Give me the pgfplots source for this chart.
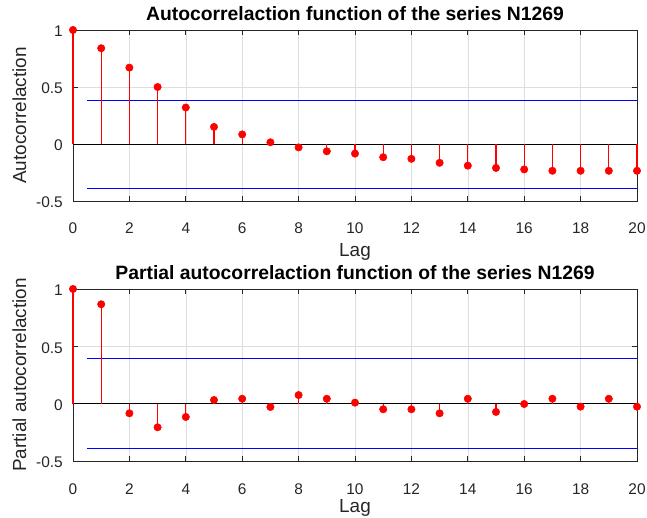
\documentclass[border=0pt]{standalone}
\usepackage{fontspec}
\setmainfont{Liberation Sans}
\usepackage{pgfplots}
\pgfplotsset{compat=1.18}
\newcommand\tickfont{\fontsize{15.5}{18}\selectfont}
\newcommand\labfont{\fontsize{19}{22}\selectfont}
\newcommand\titfont{\fontsize{19.4}{22}\selectfont\bfseries}
\definecolor{axgray}{gray}{0.15}
\definecolor{gridgray}{gray}{0.87}
\pgfplotsset{
  acf/.style={
    scale only axis, width=564bp,
    xmin=0, xmax=20, ymin=-0.5, ymax=1,
    xtick={0,2,4,6,8,10,12,14,16,18,20},
    xticklabels={0,2,4,6,8,10,12,14,16,18,20},
    ytick={-0.5,0,0.5,1}, yticklabels={-0.5,0,0.5,1},
    tick align=inside, major tick length=5bp,
    grid=major, grid style={gridgray, line width=0.6bp},
    axis line style={draw=none},
    tick style={axgray, line width=0.7bp},
    xticklabel style={font=\tickfont, text=axgray, anchor=base, yshift=-33bp, inner sep=0},
    yticklabel style={font=\tickfont, text=axgray, anchor=east, inner sep=0, xshift=-10bp, yshift=-1.5bp},
    xlabel={Lag},
    ylabel style={font=\labfont, text=axgray, at={(axis description cs:-0.0833,0.5)}, anchor=base, inner sep=0},
    title style={font=\titfont, at={(axis description cs:0.5,1)}, anchor=base, yshift=4bp, inner sep=0},
    clip=false,
  },
  frame/.style={axgray, line width=0.7bp},
  stem/.style={draw=red, color=red, line width=1.2bp, ycomb, mark=*, mark size=3.7bp, mark options={fill=red, draw=red, line width=0.5bp}},
  conf/.style={blue, line width=0.8bp},
  zero/.style={black, line width=0.9bp},
}
\begin{document}
\begin{tikzpicture}
\useasboundingbox (0,0) rectangle (647bp,518bp);
\begin{axis}[acf, at={(73bp,317bp)}, anchor=south west, height=171bp,
  title={Autocorrelaction function of the series N1269},
  ylabel={Autocorrelaction},
  xlabel style={font=\labfont, text=axgray, at={(axis description cs:0.5,-0.3099)}, anchor=base, inner sep=0, yshift=-3bp}]
\addplot[frame] coordinates {(0,-0.5) (20,-0.5) (20,1) (0,1) (0,-0.5)};
\addplot[zero] coordinates {(0,0) (20,0)};
\addplot[conf] coordinates {(0.5,0.385) (20,0.385)};
\addplot[conf] coordinates {(0.5,-0.386) (20,-0.386)};
\addplot[stem] coordinates {
(0,1) (1,0.84) (2,0.67) (3,0.50) (4,0.32) (5,0.15) (6,0.084) (7,0.015)
(8,-0.03) (9,-0.064) (10,-0.084) (11,-0.116) (12,-0.13) (13,-0.165)
(14,-0.19) (15,-0.21) (16,-0.223) (17,-0.235) (18,-0.235) (19,-0.235) (20,-0.235)};
\end{axis}
\begin{axis}[acf, at={(73bp,57bp)}, anchor=south west, height=172bp,
  title={Partial autocorrelaction function of the series N1269},
  ylabel={Partial autocorrelaction},
  xlabel style={font=\labfont, text=axgray, at={(axis description cs:0.5,-0.3081)}, anchor=base, inner sep=0, yshift=1bp}]
\addplot[frame] coordinates {(0,-0.5) (20,-0.5) (20,1) (0,1) (0,-0.5)};
\addplot[zero] coordinates {(0,0) (20,0)};
\addplot[conf] coordinates {(0.5,0.391) (20,0.391)};
\addplot[conf] coordinates {(0.5,-0.388) (20,-0.388)};
\addplot[stem] coordinates {
(0,1) (1,0.867) (2,-0.084) (3,-0.206) (4,-0.116) (5,0.032) (6,0.043) (7,-0.029)
(8,0.075) (9,0.043) (10,0.009) (11,-0.049) (12,-0.049) (13,-0.084)
(14,0.043) (15,-0.072) (16,-0.003) (17,0.043) (18,-0.026) (19,0.043) (20,-0.026)};
\end{axis}
\end{tikzpicture}
\end{document}
